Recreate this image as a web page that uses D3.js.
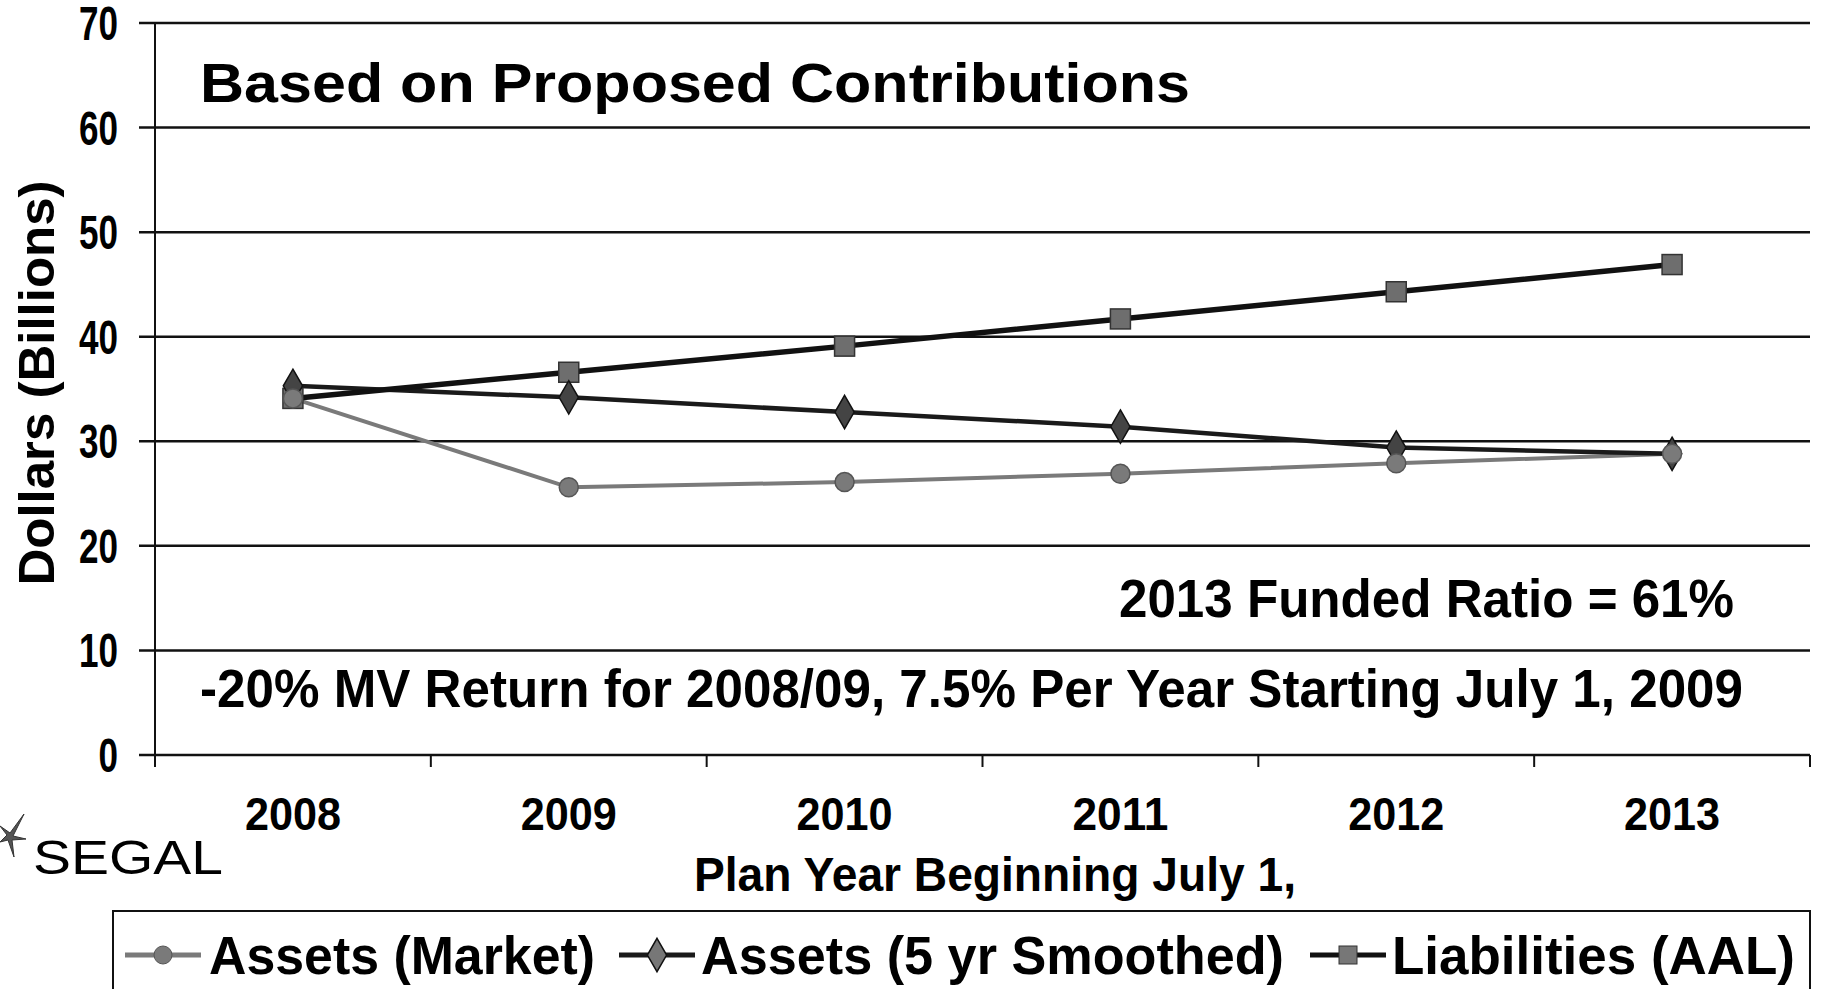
<html>
<head>
	<meta charset="utf-8">
	<title>Based on Proposed Contributions</title>
	<script src="https://cdn.jsdelivr.net/npm/d3@7"></script>
	<style>
		body { margin: 0; background: #fff; }
		text { font-family: "Liberation Sans", Arial, sans-serif; font-weight: bold; fill: #000; }
	</style>
</head>
<body>
<script>
	// data
	var years = ["2008", "2009", "2010", "2011", "2012", "2013"];
	var yTicks = [0, 10, 20, 30, 40, 50, 60, 70];
	var market = [34.1, 25.6, 26.1, 26.9, 27.9, 28.8];
	var smoothed = [35.3, 34.2, 32.8, 31.4, 29.4, 28.8];
	var liabilities = [34.1, 36.6, 39.1, 41.7, 44.3, 46.9];
	var seriesNames = ["Assets (Market)", "Assets (5 yr Smoothed)", "Liabilities (AAL)"];

	var width = 1822, height = 989;
	var pLeft = 155, pRight = 1810, pTop = 23, pBottom = 755;

	var svg = d3.select("body").append("svg")
		.attr("width", width)
		.attr("height", height);

	var x = d3.scaleBand().domain(years).range([pLeft, pRight]);
	var y = d3.scaleLinear().domain([0, 70]).range([pBottom, pTop]);

	// put a text at exact width (the original uses a condensed face)
	function label(str, px, py, size, w, anchor) {
		var t = svg.append("text")
			.attr("x", px).attr("y", py)
			.attr("font-size", size)
			.attr("text-anchor", anchor || "start")
			.text(str);
		if (w) t.attr("textLength", w).attr("lengthAdjust", "spacingAndGlyphs");
		return t;
	}

	// gridlines
	svg.selectAll(".grid")
		.data(yTicks)
		.enter()
		.append("line")
		.attr("x1", pLeft - 16)
		.attr("x2", pRight)
		.attr("y1", function(d){ return y(d); })
		.attr("y2", function(d){ return y(d); })
		.attr("stroke", "#111")
		.attr("stroke-width", 2.5);

	// y axis line
	svg.append("line")
		.attr("x1", pLeft).attr("x2", pLeft)
		.attr("y1", pTop).attr("y2", pBottom + 12)
		.attr("stroke", "#111").attr("stroke-width", 2);

	// x ticks between categories
	var xt = years.map(function(d){ return x(d); }).concat([pRight]);
	svg.selectAll(".xtick")
		.data(xt)
		.enter()
		.append("line")
		.attr("x1", function(d){ return d; })
		.attr("x2", function(d){ return d; })
		.attr("y1", pBottom)
		.attr("y2", pBottom + 12)
		.attr("stroke", "#111").attr("stroke-width", 2);

	// tick labels
	yTicks.forEach(function(d){
		label(d, 118, y(d) + 17, 48, String(d).length * 19.5, "end");
	});
	years.forEach(function(d){
		label(d, x(d) + x.bandwidth()/2, 830, 46, 96, "middle");
	});

	// axis titles
	svg.append("text")
		.attr("transform", "translate(54,383) rotate(-90)")
		.attr("text-anchor", "middle")
		.attr("font-size", 50)
		.attr("textLength", 405).attr("lengthAdjust", "spacingAndGlyphs")
		.text("Dollars (Billions)");
	label("Plan Year Beginning July 1,", 694, 891, 48, 602);

	// texts inside plot
	label("Based on Proposed Contributions", 200, 102, 55, 990);
	label("2013 Funded Ratio = 61%", 1119, 617, 53, 615);
	label("-20% MV Return for 2008/09, 7.5% Per Year Starting July 1, 2009", 200, 707, 53, 1543);

	// lines
	var cx = function(d, i){ return x(years[i]) + x.bandwidth()/2; };
	var line = d3.line()
		.x(cx)
		.y(function(d){ return y(d); });

	svg.append("path").datum(market).attr("d", line)
		.attr("fill", "none").attr("stroke", "#7a7a7a").attr("stroke-width", 4);
	svg.append("path").datum(smoothed).attr("d", line)
		.attr("fill", "none").attr("stroke", "#1a1a1a").attr("stroke-width", 4.5);
	svg.append("path").datum(liabilities).attr("d", line)
		.attr("fill", "none").attr("stroke", "#111").attr("stroke-width", 5.5);

	// markers
	svg.selectAll(".sq").data(liabilities).enter().append("rect")
		.attr("x", function(d, i){ return cx(d, i) - 10; })
		.attr("y", function(d){ return y(d) - 10; })
		.attr("width", 20).attr("height", 20)
		.attr("fill", "#6e6e6e").attr("stroke", "#333").attr("stroke-width", 1.5);
	var diamond = d3.symbol().type(d3.symbolDiamond).size(320);
	svg.selectAll(".dm").data(smoothed).enter().append("path")
		.attr("d", diamond)
		.attr("transform", function(d, i){ return "translate(" + cx(d, i) + "," + y(d) + ")"; })
		.attr("fill", "#444").attr("stroke", "#111").attr("stroke-width", 1.5);
	svg.selectAll(".ci").data(market).enter().append("circle")
		.attr("cx", cx)
		.attr("cy", function(d){ return y(d); })
		.attr("r", 9.5)
		.attr("fill", "#7a7a7a").attr("stroke", "#555").attr("stroke-width", 1.5);

	// SEGAL mark
	svg.append("path")
		.attr("d", "M10,833 L24,814 L13,836 L26,839 L12,840 L14,857 L8,840 L0,842 L7,835 L0,826 Z")
		.attr("fill", "#555").attr("stroke", "#333").attr("stroke-width", 1);
	svg.append("text")
		.attr("x", 33).attr("y", 874)
		.attr("font-size", 48)
		.attr("textLength", 190).attr("lengthAdjust", "spacingAndGlyphs")
		.style("font-weight", "normal")
		.attr("fill", "#222")
		.text("SEGAL");

	// legend
	svg.append("rect")
		.attr("x", 113).attr("y", 911)
		.attr("width", pRight - 113).attr("height", 100)
		.attr("fill", "none").attr("stroke", "#111").attr("stroke-width", 2);
	var legend = [
		{name: seriesNames[0], lx: 125, tx: 209, tw: 386, c: "#7a7a7a", m: "circle"},
		{name: seriesNames[1], lx: 619, tx: 701, tw: 583, c: "#1a1a1a", m: "diamond"},
		{name: seriesNames[2], lx: 1310, tx: 1392, tw: 403, c: "#111", m: "square"}
	];
	legend.forEach(function(d){
		var ly = 955;
		svg.append("line")
			.attr("x1", d.lx).attr("x2", d.lx + 76)
			.attr("y1", ly).attr("y2", ly)
			.attr("stroke", d.c).attr("stroke-width", 5);
		var mx = d.lx + 38;
		if (d.m == "circle")
			svg.append("circle").attr("cx", mx).attr("cy", ly).attr("r", 9)
				.attr("fill", "#7a7a7a").attr("stroke", "#555");
		else if (d.m == "diamond")
			svg.append("path").attr("d", diamond).attr("transform", "translate(" + mx + "," + ly + ")")
				.attr("fill", "#777").attr("stroke", "#111").attr("stroke-width", 1.5);
		else
			svg.append("rect").attr("x", mx - 9).attr("y", ly - 9).attr("width", 18).attr("height", 18)
				.attr("fill", "#777").attr("stroke", "#333");
		label(d.name, d.tx, 974, 53, d.tw);
	});
</script>
</body>
</html>
